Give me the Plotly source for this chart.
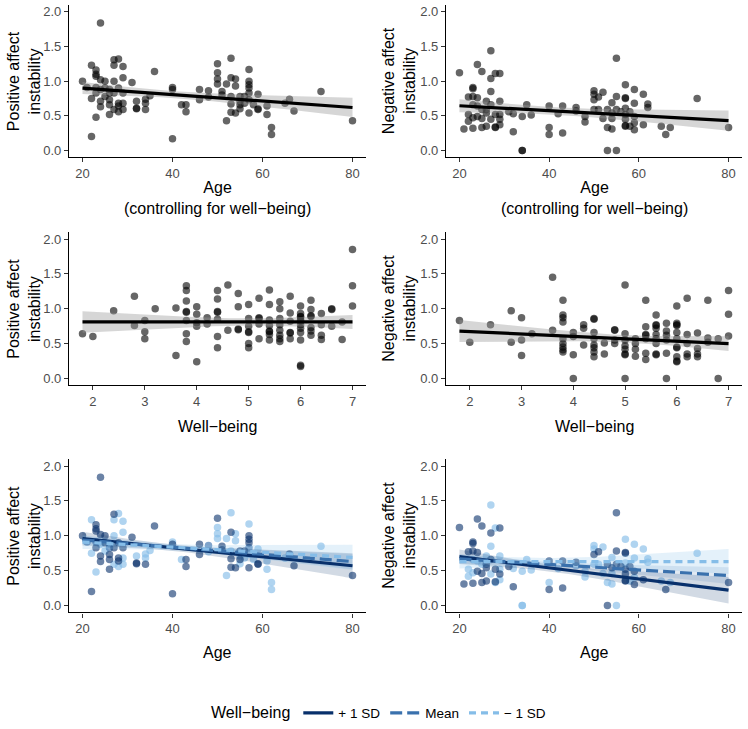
import numpy as np
import plotly.graph_objects as go

# ---------------- data ----------------
# Age vs positive affect instability (group: 0 = +1 SD, 1 = Mean, 2 = -1 SD well-being)
pa_age = [20, 21, 22, 22, 22, 23, 23, 23, 23, 23, 23, 24, 24, 24, 24, 24, 25, 25, 25, 26,
          26, 26, 26, 26, 27, 27, 27, 27, 27, 28, 28, 28, 28, 28, 29, 29, 29, 29, 29, 31,
          32, 32, 32, 34, 34, 34, 35, 36, 40, 40, 40, 42, 43, 43, 46, 46, 48, 48, 50, 50,
          50, 50, 51, 51, 52, 52, 53, 53, 53, 53, 53, 54, 54, 54, 55, 55, 55, 55, 56, 56,
          57, 57, 57, 57, 57, 57, 57, 58, 59, 59, 59, 61, 61, 62, 62, 65, 66, 67, 73, 80]
pa_val = [1.00, 0.91, 1.23, 0.75, 0.20, 0.48, 1.16, 1.10, 1.07, 0.91, 0.83, 1.84, 1.02, 0.71, 0.63, 0.88, 1.00, 0.78, 0.90, 0.73,
          0.66, 0.52, 0.88, 0.83, 1.31, 1.23, 1.00, 0.83, 0.59, 1.32, 0.90, 0.68, 0.56, 0.64, 1.21, 1.05, 0.83, 0.68, 0.59, 0.98,
          0.71, 0.60, 0.61, 0.74, 0.68, 0.59, 0.79, 1.14, 0.91, 0.88, 0.17, 0.66, 0.66, 0.56, 0.88, 0.73, 0.86, 0.77, 1.25, 1.12,
          1.03, 0.96, 0.85, 0.80, 0.96, 0.43, 1.33, 1.05, 0.78, 0.67, 0.55, 1.03, 0.93, 0.54, 0.78, 0.71, 0.66, 0.60, 0.78, 0.68,
          1.17, 1.00, 0.95, 0.90, 0.83, 0.73, 0.54, 0.66, 0.81, 0.59, 0.60, 0.64, 0.52, 0.33, 0.23, 0.68, 0.74, 0.57, 0.85, 0.43]
pa_grp = [0, 1, 2, 2, 0, 2, 0, 0, 0, 1, 0, 0, 0, 0, 0, 2, 0, 2, 0, 0,
          0, 0, 2, 1, 0, 2, 2, 0, 2, 2, 0, 0, 2, 0, 2, 2, 0, 2, 2, 0,
          2, 0, 0, 2, 2, 0, 2, 0, 2, 0, 0, 2, 0, 0, 0, 0, 1, 2, 0, 2,
          2, 2, 0, 0, 2, 2, 2, 0, 2, 0, 0, 2, 2, 0, 0, 2, 0, 2, 0, 2,
          2, 0, 0, 0, 1, 2, 0, 2, 2, 0, 0, 2, 2, 2, 2, 2, 0, 0, 2, 0]

# Age vs negative affect instability
na_age = [20, 21, 22, 22, 22, 23, 23, 23, 23, 23, 23, 24, 24, 24, 24, 25, 25, 25, 25, 26,
          26, 26, 26, 27, 27, 27, 27, 27, 28, 28, 28, 28, 29, 29, 29, 29, 29, 31, 32, 32,
          34, 34, 34, 35, 36, 40, 40, 40, 42, 43, 43, 46, 46, 48, 48, 50, 50, 50, 50, 51,
          51, 52, 52, 53, 53, 53, 54, 54, 54, 54, 55, 55, 55, 55, 56, 57, 57, 57, 57, 57,
          57, 57, 57, 58, 58, 59, 59, 59, 59, 59, 61, 61, 62, 62, 65, 66, 67, 73, 80]
na_val = [1.12, 0.31, 0.77, 0.52, 0.42, 0.91, 0.89, 0.78, 0.66, 0.47, 0.32, 1.24, 0.76, 0.64, 0.49, 1.14, 0.59, 0.46, 0.33, 0.71,
          0.54, 0.59, 0.35, 1.44, 1.04, 0.85, 0.66, 0.45, 1.11, 0.52, 0.33, 0.34, 1.11, 0.71, 0.52, 0.45, 0.37, 0.56, 0.53, 0.27,
          0.00, 0.00, 0.49, 0.66, 0.51, 0.64, 0.33, 0.23, 0.53, 0.64, 0.25, 0.62, 0.57, 0.49, 0.41, 0.86, 0.81, 0.73, 0.59, 0.77,
          0.59, 0.84, 0.46, 0.59, 0.33, 0.00, 0.69, 0.54, 0.46, 0.31, 1.33, 0.78, 0.59, 0.00, 0.56, 0.95, 0.75, 0.76, 0.61, 0.52,
          0.45, 0.35, 0.36, 0.56, 0.35, 0.88, 0.68, 0.49, 0.40, 0.30, 0.81, 0.37, 0.67, 0.62, 0.35, 0.23, 0.33, 0.75, 0.33]
na_grp = [0, 0, 0, 2, 2, 0, 0, 0, 2, 2, 0, 0, 0, 2, 0, 0, 2, 0, 0, 2,
          0, 0, 0, 2, 0, 2, 0, 2, 2, 0, 2, 0, 0, 2, 2, 0, 2, 0, 2, 0,
          2, 2, 2, 2, 2, 0, 2, 0, 2, 0, 0, 0, 2, 2, 2, 2, 2, 0, 2, 0,
          2, 2, 2, 0, 2, 0, 2, 0, 2, 2, 0, 0, 0, 2, 0, 2, 0, 0, 2, 0,
          0, 0, 0, 0, 2, 2, 2, 0, 2, 0, 2, 0, 2, 2, 2, 0, 2, 2, 0]

# Well-being vs positive affect instability
wb_pa_x = [1.8, 2.0, 2.4, 2.8, 2.8, 3.0, 3.0, 3.0, 3.2, 3.6, 3.6,
           3.8, 3.8, 3.8, 3.8, 3.8, 3.8, 3.8, 3.8, 4.0, 4.0, 4.0, 4.0, 4.0, 4.2, 4.2,
           4.4, 4.4, 4.4, 4.4, 4.4, 4.4, 4.4, 4.6, 4.6, 4.8, 4.8, 4.8, 4.8,
           5.0, 5.0, 5.0, 5.0, 5.0, 5.0, 5.0, 5.2, 5.2, 5.2, 5.2, 5.2,
           5.4, 5.4, 5.4, 5.4, 5.4, 5.4, 5.4, 5.4, 5.6, 5.6, 5.6, 5.6, 5.6, 5.6, 5.6, 5.6,
           5.8, 5.8, 5.8, 5.8, 5.8, 5.8, 6.0, 6.0, 6.0, 6.0, 6.0, 6.0, 6.0, 6.0, 6.0, 6.0, 6.0, 6.0,
           6.2, 6.2, 6.2, 6.2, 6.2, 6.2, 6.2, 6.4, 6.4, 6.4, 6.4, 6.6, 6.6, 6.6, 6.8, 6.8, 7.0, 7.0, 7.0]
wb_pa_y = [0.64, 0.60, 0.97, 1.18, 0.76, 0.83, 0.67, 0.57, 1.00, 1.01, 0.33,
           1.33, 1.26, 1.11, 0.96, 0.95, 0.83, 0.64, 0.53, 1.03, 0.92, 0.80, 0.75, 0.24, 0.87, 0.78,
           1.26, 1.14, 0.96, 0.95, 0.85, 0.60, 0.44, 1.34, 0.69, 1.22, 1.03, 0.70, 0.71,
           1.06, 0.86, 0.75, 0.67, 0.66, 0.50, 0.44, 1.15, 0.87, 0.86, 0.78, 0.57,
           1.27, 1.06, 0.84, 0.76, 0.68, 0.67, 0.63, 0.55, 1.10, 1.00, 0.86, 0.77, 0.69, 0.62, 0.57, 0.53,
           1.18, 0.94, 0.82, 0.66, 0.65, 0.57, 1.04, 0.93, 0.89, 0.84, 0.82, 0.77, 0.72, 0.66, 0.55, 0.19, 0.17, 0.88,
           1.12, 0.99, 0.90, 0.89, 0.73, 0.68, 0.62, 0.93, 0.77, 0.62, 0.56, 1.00, 0.99, 0.75, 0.81, 0.56, 1.85, 1.33, 1.04]

# Well-being vs negative affect instability
wb_na_x = [1.8, 2.0, 2.4, 2.8, 2.8, 3.0, 3.0, 3.0, 3.2, 3.6, 3.6,
           3.8, 3.8, 3.8, 3.8, 3.8, 3.8, 3.8, 3.8, 3.8, 4.0, 4.0, 4.0, 4.0, 4.2, 4.2, 4.2,
           4.4, 4.4, 4.4, 4.4, 4.4, 4.4, 4.4, 4.4, 4.6, 4.6, 4.8, 4.8, 4.8, 4.8,
           5.0, 5.0, 5.0, 5.0, 5.0, 5.0, 5.0, 5.0, 5.2, 5.2, 5.2, 5.2,
           5.4, 5.4, 5.4, 5.4, 5.4, 5.4, 5.4, 5.6, 5.6, 5.6, 5.6, 5.6, 5.6, 5.6, 5.6, 5.6,
           5.8, 5.8, 5.8, 5.8, 5.8, 5.8, 6.0, 6.0, 6.0, 6.0, 6.0, 6.0, 6.0, 6.0, 6.0, 6.0, 6.0,
           6.2, 6.2, 6.2, 6.2, 6.2, 6.4, 6.4, 6.4, 6.4, 6.6, 6.6, 6.6, 6.8, 6.8, 7.0, 7.0, 7.0]
wb_na_y = [0.83, 0.52, 0.77, 0.97, 0.52, 0.87, 0.55, 0.33, 0.64, 1.45, 0.69,
           1.12, 0.91, 0.87, 0.81, 0.57, 0.50, 0.45, 0.41, 0.38, 0.66, 0.60, 0.34, 0.00, 0.77, 0.72, 0.48,
           0.86, 0.85, 0.66, 0.57, 0.48, 0.44, 0.38, 0.31, 0.51, 0.35, 0.69, 0.70, 0.55, 0.50,
           1.34, 0.64, 0.55, 0.47, 0.42, 0.35, 0.34, 0.00, 0.57, 0.50, 0.42, 0.32,
           1.12, 0.74, 0.63, 0.62, 0.57, 0.36, 0.27, 0.91, 0.77, 0.76, 0.72, 0.63, 0.57, 0.50, 0.35, 0.34,
           0.79, 0.68, 0.62, 0.55, 0.36, 0.00, 1.04, 0.79, 0.76, 0.77, 0.66, 0.57, 0.45, 0.44, 0.31, 0.25, 0.24,
           1.15, 0.63, 0.50, 0.35, 0.31, 0.65, 0.43, 0.35, 0.31, 1.12, 0.58, 0.52, 0.57, 0.00, 1.26, 0.92, 0.61]

# Model-estimated regression lines (values at the ends of each x range)
simple_fit_x = [[20, 80], [20, 80], [1.8, 7.0], [1.8, 7.0]]
simple_fit_y = [[0.90, 0.62], [0.645, 0.43], [0.81, 0.81], [0.68, 0.50]]

# Moderation model (Age x Well-being): predicted instability at age 20 and 80 per well-being level
group_names = ["+ 1 SD", "Mean", "\u2212 1 SD"]
pa_mod_at20 = [0.96, 0.94, 0.91]
pa_mod_at80 = [0.57, 0.63, 0.69]
pa_mod_hw_center = [0.045, 0.03, 0.045]
pa_mod_hw_at80 = [0.18, 0.11, 0.18]
na_mod_at20 = [0.70, 0.67, 0.63]
na_mod_at80 = [0.22, 0.43, 0.63]
na_mod_hw_center = [0.05, 0.035, 0.05]
na_mod_hw_at80 = [0.19, 0.12, 0.18]
mod_center_age = 40

# ---------------- style ----------------
FONT = "Liberation Sans, Arial, Helvetica, sans-serif"
grp_colors = ["#08306b", "#3a71ad", "#85bde8"]
grp_pt_opacity = [0.6, 0.65, 0.65]
grp_fill = ["rgba(8,48,107,0.18)", "rgba(58,113,173,0.15)", "rgba(133,189,232,0.22)"]
grp_dash = ["solid", "12px,5px", "7px,5px"]
W, H = 748, 729

fig = go.Figure()


def ax_names(k):
    return ("x" if k == 0 else f"x{k+1}", "y" if k == 0 else f"y{k+1}")


def band_se(x, y, xs):
    # half-width of the 95% band of the mean prediction from an OLS fit of the data
    x = np.asarray(x, float)
    y = np.asarray(y, float)
    n = len(x)
    xb = x.mean()
    sxx = ((x - xb) ** 2).sum()
    b1 = ((x - xb) * (y - y.mean())).sum() / sxx
    b0 = y.mean() - b1 * xb
    s = np.sqrt(((y - b0 - b1 * x) ** 2).sum() / (n - 2))
    return 1.98 * s * np.sqrt(1.0 / n + (xs - xb) ** 2 / sxx)


def add_simple_panel(k, x, y):
    xa, ya = ax_names(k)
    fig.add_trace(go.Scatter(x=x, y=y, mode="markers", xaxis=xa, yaxis=ya, showlegend=False,
                             marker=dict(size=7.5, color="rgba(0,0,0,0.6)", line=dict(width=0))))
    x0, x1 = simple_fit_x[k]
    y0, y1 = simple_fit_y[k]
    xs = np.linspace(x0, x1, 80)
    fit = y0 + (y1 - y0) * (xs - x0) / (x1 - x0)
    hw = band_se(x, y, xs)
    fig.add_trace(go.Scatter(x=np.concatenate([xs, xs[::-1]]), y=np.concatenate([fit - hw, (fit + hw)[::-1]]),
                             fill="toself", fillcolor="rgba(153,153,153,0.4)", line=dict(width=0),
                             mode="lines", xaxis=xa, yaxis=ya, showlegend=False, hoverinfo="skip"))
    fig.add_trace(go.Scatter(x=xs, y=fit, mode="lines", line=dict(color="black", width=3.2),
                             xaxis=xa, yaxis=ya, showlegend=False))


def add_mod_panel(k, x, y, grp, at20, at80, hwc, hw80, legend):
    xa, ya = ax_names(k)
    x = np.asarray(x)
    y = np.asarray(y)
    g = np.asarray(grp)
    for gi in [2, 1, 0]:
        m = g == gi
        fig.add_trace(go.Scatter(x=x[m], y=y[m], mode="markers", xaxis=xa, yaxis=ya, showlegend=False,
                                 marker=dict(size=7.5, color=grp_colors[gi], opacity=grp_pt_opacity[gi],
                                             line=dict(width=0))))
    xs = np.linspace(20, 80, 80)
    for gi in range(3):
        fit = at20[gi] + (at80[gi] - at20[gi]) * (xs - 20) / 60.0
        hw = np.sqrt(hwc[gi] ** 2 + (hw80[gi] ** 2 - hwc[gi] ** 2) * ((xs - mod_center_age) / (80 - mod_center_age)) ** 2)
        fig.add_trace(go.Scatter(x=np.concatenate([xs, xs[::-1]]), y=np.concatenate([fit - hw, (fit + hw)[::-1]]),
                                 fill="toself", fillcolor=grp_fill[gi], line=dict(width=0), mode="lines",
                                 xaxis=xa, yaxis=ya, showlegend=False, hoverinfo="skip"))
    for gi in range(3):
        fit = at20[gi] + (at80[gi] - at20[gi]) * (xs - 20) / 60.0
        fig.add_trace(go.Scatter(x=xs, y=fit, mode="lines", name=group_names[gi],
                                 line=dict(color=grp_colors[gi], width=3.2, dash=grp_dash[gi]),
                                 xaxis=xa, yaxis=ya, showlegend=legend, legendrank=gi + 1))


add_simple_panel(0, pa_age, pa_val)
add_simple_panel(1, na_age, na_val)
add_simple_panel(2, wb_pa_x, wb_pa_y)
add_simple_panel(3, wb_na_x, wb_na_y)
add_mod_panel(4, pa_age, pa_val, pa_grp, pa_mod_at20, pa_mod_at80, pa_mod_hw_center, pa_mod_hw_at80, True)
add_mod_panel(5, na_age, na_val, na_grp, na_mod_at20, na_mod_at80, na_mod_hw_center, na_mod_hw_at80, False)

# ---------------- layout ----------------
col_px = [(69, 366), (446, 742)]
row_px = [(5, 158), (233, 387), (461, 615)]

axis_common = dict(showline=True, linecolor="black", linewidth=1.1, ticks="outside", ticklen=4,
                   tickcolor="#333333", tickwidth=1, showgrid=False, zeroline=False,
                   tickfont=dict(family=FONT, size=13, color="#4d4d4d"))
layout = {}
for k in range(6):
    r, c = divmod(k, 2)
    xn = "xaxis" if k == 0 else f"xaxis{k+1}"
    yn = "yaxis" if k == 0 else f"yaxis{k+1}"
    xa, ya = ax_names(k)
    if r == 1:
        xr = dict(range=[1.54, 7.26], tickvals=[2, 3, 4, 5, 6, 7])
    else:
        xr = dict(range=[17, 83], tickvals=[20, 40, 60, 80])
    layout[xn] = dict(axis_common, domain=[col_px[c][0] / W, col_px[c][1] / W], anchor=ya, **xr)
    layout[yn] = dict(axis_common, domain=[1 - row_px[r][1] / H, 1 - row_px[r][0] / H], anchor=xa,
                      range=[-0.1, 2.1], tickvals=[0, 0.5, 1, 1.5, 2],
                      ticktext=["0.0", "0.5", "1.0", "1.5", "2.0"])

fig.update_layout(**layout)

annots = []
ytitles = ["Positive affect<br>instability", "Negative affect<br>instability"]
ytitle_x = [24, 399]
for r in range(3):
    for c in range(2):
        annots.append(dict(text=ytitles[c], x=ytitle_x[c] / W, y=1 - (row_px[r][0] + row_px[r][1]) / 2 / H,
                           xref="paper", yref="paper", xanchor="center", yanchor="middle",
                           textangle=-90, showarrow=False, font=dict(family=FONT, size=16, color="black")))
xtitles = ["Age<br>(controlling for well\u2212being)", "Well\u2212being", "Age"]
xtitle_y = [199, 428, 655]
for r in range(3):
    for c in range(2):
        annots.append(dict(text=xtitles[r], x=(col_px[c][0] + col_px[c][1]) / 2 / W, y=1 - xtitle_y[r] / H,
                           xref="paper", yref="paper", xanchor="center", yanchor="middle",
                           showarrow=False, font=dict(family=FONT, size=16, color="black")))

fig.update_layout(
    width=W, height=H, margin=dict(l=0, r=0, t=0, b=0),
    paper_bgcolor="white", plot_bgcolor="white",
    font=dict(family=FONT, color="black"),
    annotations=annots,
    legend=dict(orientation="h", x=0.508, xanchor="center", y=1 - 716 / H, yanchor="middle",
                title=dict(text="Well\u2212being", font=dict(family=FONT, size=16, color="black"), side="left"),
                font=dict(family=FONT, size=13.5, color="black"), bgcolor="rgba(0,0,0,0)",
                itemwidth=30, traceorder="normal"),
)

fig.write_html("out.html", config={"displayModeBar": False},
               post_script="document.body.style.margin='0px';document.body.style.padding='0px';")
